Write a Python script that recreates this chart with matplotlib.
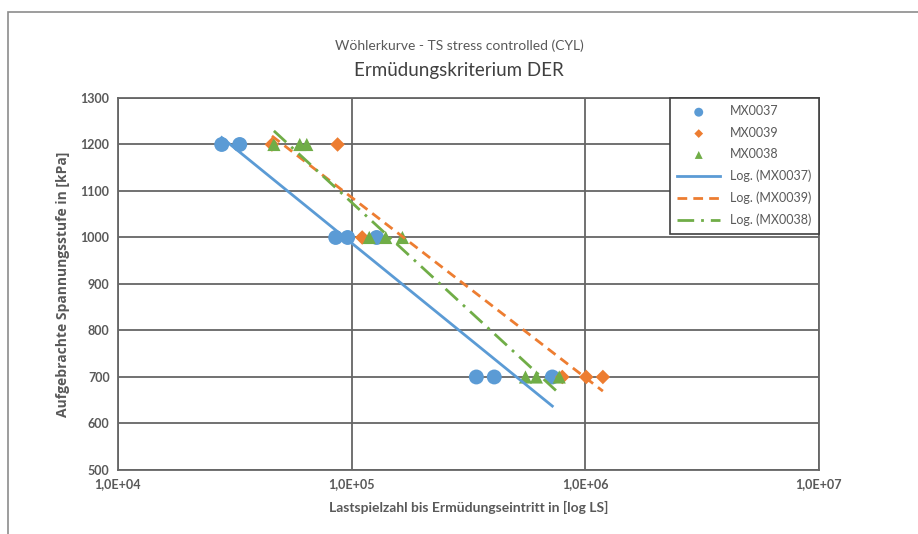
import matplotlib

matplotlib.use("Agg")

import matplotlib.pyplot as plt
import numpy as np
from matplotlib.patches import Rectangle
from matplotlib.ticker import FixedLocator, FuncFormatter, NullLocator

# Wöhler data: cycles to failure at each stress level
mx0037_cycles = [27800, 33200, 85500, 96200, 128000, 342000, 408000, 723000]
mx0037_stress = [1200, 1200, 1000, 1000, 1000, 700, 700, 700]

mx0039_cycles = [45600, 87100, 111000, 798000, 1010000, 1190000]
mx0039_stress = [1200, 1200, 1000, 700, 700, 700]

mx0038_cycles = [46500, 60000, 64300, 119000, 140000, 165000, 555000, 618000, 774000]
mx0038_stress = [1200, 1200, 1200, 1000, 1000, 1000, 700, 700, 700]

x_ticks = [1e4, 1e5, 1e6, 1e7]
y_ticks = list(range(500, 1301, 100))

BLUE = "#5B9BD5"
ORANGE = "#ED7D31"
GREEN = "#70AD47"
GRID = "#666666"
TEXT = "#595959"

plt.rcParams["font.family"] = ["Lato", "DejaVu Sans"]

fig = plt.figure(figsize=(9.18, 5.34), dpi=100)
ax = fig.add_axes([0.1285, 0.1199, 0.7635, 0.6966])

series = [
    ("MX0037", mx0037_cycles, mx0037_stress, BLUE, "o", 115),
    ("MX0039", mx0039_cycles, mx0039_stress, ORANGE, "D", 55),
    ("MX0038", mx0038_cycles, mx0038_stress, GREEN, "^", 90),
]
line_styles = {
    "MX0037": "-",
    "MX0039": (0, (3.5, 2.2)),
    "MX0038": (0, (6, 2.5, 1, 2.5)),
}

for name, cyc, st, col, mk, size in series:
    ax.scatter(cyc, st, s=size, c=col, marker=mk, edgecolors="none",
               zorder=3, label=name)

# Excel-style logarithmic trendlines: y = a*ln(x) + b over the data range
for name, cyc, st, col, mk, size in series:
    lx = np.log10(np.asarray(cyc, dtype=float))
    a, b = np.polyfit(lx, np.asarray(st, dtype=float), 1)
    xs = np.linspace(lx.min(), lx.max(), 50)
    ax.plot(10 ** xs, a * xs + b, color=col, lw=2.0,
            linestyle=line_styles[name], zorder=4, label=f"Log. ({name})")

ax.set_xscale("log")
ax.set_xlim(1e4, 1e7)
ax.set_ylim(500, 1300)
ax.xaxis.set_major_locator(FixedLocator(x_ticks))
ax.xaxis.set_minor_locator(NullLocator())
ax.xaxis.set_major_formatter(
    FuncFormatter(lambda v, p: f"1,0E+{int(round(np.log10(v))):02d}"))
ax.set_yticks(y_ticks)
ax.tick_params(length=0, labelsize=9, labelcolor=TEXT, pad=6)
for lab in ax.get_xticklabels() + ax.get_yticklabels():
    lab.set_fontweight("bold")

ax.grid(True, color=GRID, lw=1.3, zorder=0)
ax.set_axisbelow(True)
for sp in ax.spines.values():
    sp.set_color(GRID)
    sp.set_linewidth(1.3)

ax.set_xlabel("Lastspielzahl bis Ermüdungseintritt in [log LS]",
              fontsize=10, fontweight="bold", color=TEXT, labelpad=8)
ax.set_ylabel("Aufgebrachte Spannungsstufe in [kPa]", fontsize=10,
              fontweight="bold", color=TEXT, labelpad=8,
              family=["Open Sans", "DejaVu Sans"])

fig.text(0.5, 0.915, "Wöhlerkurve - TS stress controlled (CYL)",
         ha="center", va="center", fontsize=10, color=TEXT)
fig.text(0.5, 0.868, "Ermüdungskriterium DER",
         ha="center", va="center", fontsize=13.5, color="#404040")

leg = ax.legend(loc="upper right", borderaxespad=0, fontsize=9,
                markerscale=0.6, handlelength=3.4, labelspacing=0.75,
                fancybox=False, framealpha=1, edgecolor="#404040",
                borderpad=0.6)
leg.get_frame().set_linewidth(1.2)
for t in leg.get_texts():
    t.set_color(TEXT)

# outer chart border (only top/left visible in the crop)
fig.add_artist(Rectangle((8 / 918, -0.2), 1.2, 1 - 12 / 534 + 0.2,
                         transform=fig.transFigure, fill=False,
                         ec="#8c8c8c", lw=1.2))

fig.savefig("out.png", dpi=100)
